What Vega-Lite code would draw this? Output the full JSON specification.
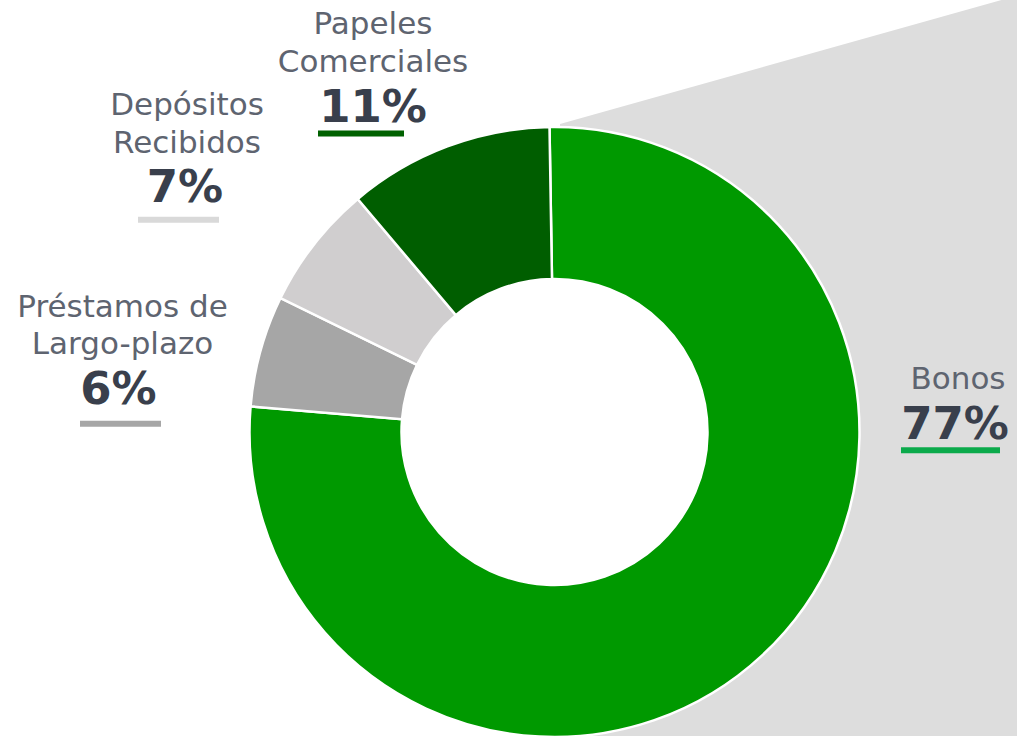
{
  "$schema": "https://vega.github.io/schema/vega-lite/v6.json",
  "width": 1017,
  "height": 736,
  "autosize": {"type": "none"},
  "padding": 0,
  "background": "white",
  "config": {"view": {"stroke": null}},
  "datasets": {
    "fuentes": [
      {"fuente": "Bonos", "etiqueta": "Bonos", "porcentaje": 0.766, "orden": 1},
      {"fuente": "Préstamos de Largo-plazo", "etiqueta": "Préstamos de\nLargo-plazo", "porcentaje": 0.059, "orden": 2},
      {"fuente": "Depósitos Recibidos", "etiqueta": "Depósitos\nRecibidos", "porcentaje": 0.066, "orden": 3},
      {"fuente": "Papeles Comerciales", "etiqueta": "Papeles\nComerciales", "porcentaje": 0.109, "orden": 4}
    ]
  },
  "layer": [
    {
      "data": {"values": [{}]},
      "mark": {"type": "arc", "x": 560, "y": 124, "radius": 1100, "theta": 1.297, "theta2": 3.1416, "fill": "#DDDDDD"},
      "encoding": {}
    },
    {
      "data": {"values": [{}]},
      "mark": {"type": "arc", "x": 554.5, "y": 432, "radius": 155, "theta": 0, "theta2": 6.2832, "fill": "white"},
      "encoding": {}
    },
    {
      "data": {"name": "fuentes"},
      "mark": {"type": "arc", "x": 554.5, "y": 432, "radius": 305, "innerRadius": 153, "stroke": "white", "strokeWidth": 2.5},
      "encoding": {
        "theta": {"field": "porcentaje", "type": "quantitative", "stack": true, "scale": {"range": [-0.0164, 6.2668]}},
        "order": {"field": "orden", "type": "quantitative"},
        "color": {
          "field": "fuente", "type": "nominal", "legend": null,
          "scale": {
            "domain": ["Bonos", "Préstamos de Largo-plazo", "Depósitos Recibidos", "Papeles Comerciales"],
            "range": ["#009900", "#A6A6A6", "#D0CECF", "#005E00"]
          }
        }
      }
    },
    {
      "data": {"name": "fuentes"},
      "transform": [{"filter": "datum.fuente === 'Bonos'"}],
      "layer": [
        {"mark": {"type": "text", "x": 958, "y": 389, "align": "center", "baseline": "alphabetic", "font": "DejaVu Sans", "fontSize": 31, "color": "#5E6470", "lineBreak": "\n", "lineHeight": 38}, "encoding": {"text": {"field": "etiqueta"}}},
        {"mark": {"type": "text", "x": 955, "y": 438.5, "align": "center", "baseline": "alphabetic", "font": "DejaVu Sans", "fontSize": 45, "fontWeight": "bold", "color": "#393F4C"}, "encoding": {"text": {"field": "porcentaje", "type": "quantitative", "format": ".0%"}}},
        {"mark": {"type": "rule", "stroke": "#0BAA4B", "strokeWidth": 6}, "encoding": {"x": {"value": 901}, "x2": {"value": 1000}, "y": {"value": 450.3}}}
      ]
    },
    {
      "data": {"name": "fuentes"},
      "transform": [{"filter": "datum.fuente === 'Papeles Comerciales'"}],
      "layer": [
        {"mark": {"type": "text", "x": 373, "y": 33.5, "align": "center", "baseline": "alphabetic", "font": "DejaVu Sans", "fontSize": 31, "color": "#5E6470", "lineBreak": "\n", "lineHeight": 38.4}, "encoding": {"text": {"field": "etiqueta"}}},
        {"mark": {"type": "text", "x": 373, "y": 122, "align": "center", "baseline": "alphabetic", "font": "DejaVu Sans", "fontSize": 45, "fontWeight": "bold", "color": "#393F4C"}, "encoding": {"text": {"field": "porcentaje", "type": "quantitative", "format": ".0%"}}},
        {"mark": {"type": "rule", "stroke": "#006100", "strokeWidth": 6}, "encoding": {"x": {"value": 318}, "x2": {"value": 404}, "y": {"value": 133.5}}}
      ]
    },
    {
      "data": {"name": "fuentes"},
      "transform": [{"filter": "datum.fuente === 'Depósitos Recibidos'"}],
      "layer": [
        {"mark": {"type": "text", "x": 187, "y": 115, "align": "center", "baseline": "alphabetic", "font": "DejaVu Sans", "fontSize": 31, "color": "#5E6470", "lineBreak": "\n", "lineHeight": 38.4}, "encoding": {"text": {"field": "etiqueta"}}},
        {"mark": {"type": "text", "x": 185, "y": 202, "align": "center", "baseline": "alphabetic", "font": "DejaVu Sans", "fontSize": 45, "fontWeight": "bold", "color": "#393F4C"}, "encoding": {"text": {"field": "porcentaje", "type": "quantitative", "format": ".0%"}}},
        {"mark": {"type": "rule", "stroke": "#D9D9D9", "strokeWidth": 6}, "encoding": {"x": {"value": 138}, "x2": {"value": 219}, "y": {"value": 219.7}}}
      ]
    },
    {
      "data": {"name": "fuentes"},
      "transform": [{"filter": "datum.fuente === 'Préstamos de Largo-plazo'"}],
      "layer": [
        {"mark": {"type": "text", "x": 122.5, "y": 317, "align": "center", "baseline": "alphabetic", "font": "DejaVu Sans", "fontSize": 31, "color": "#5E6470", "lineBreak": "\n", "lineHeight": 37}, "encoding": {"text": {"field": "etiqueta"}}},
        {"mark": {"type": "text", "x": 118.5, "y": 404, "align": "center", "baseline": "alphabetic", "font": "DejaVu Sans", "fontSize": 45, "fontWeight": "bold", "color": "#393F4C"}, "encoding": {"text": {"field": "porcentaje", "type": "quantitative", "format": ".0%"}}},
        {"mark": {"type": "rule", "stroke": "#A6A6A6", "strokeWidth": 6}, "encoding": {"x": {"value": 80}, "x2": {"value": 161}, "y": {"value": 423.7}}}
      ]
    }
  ]
}
